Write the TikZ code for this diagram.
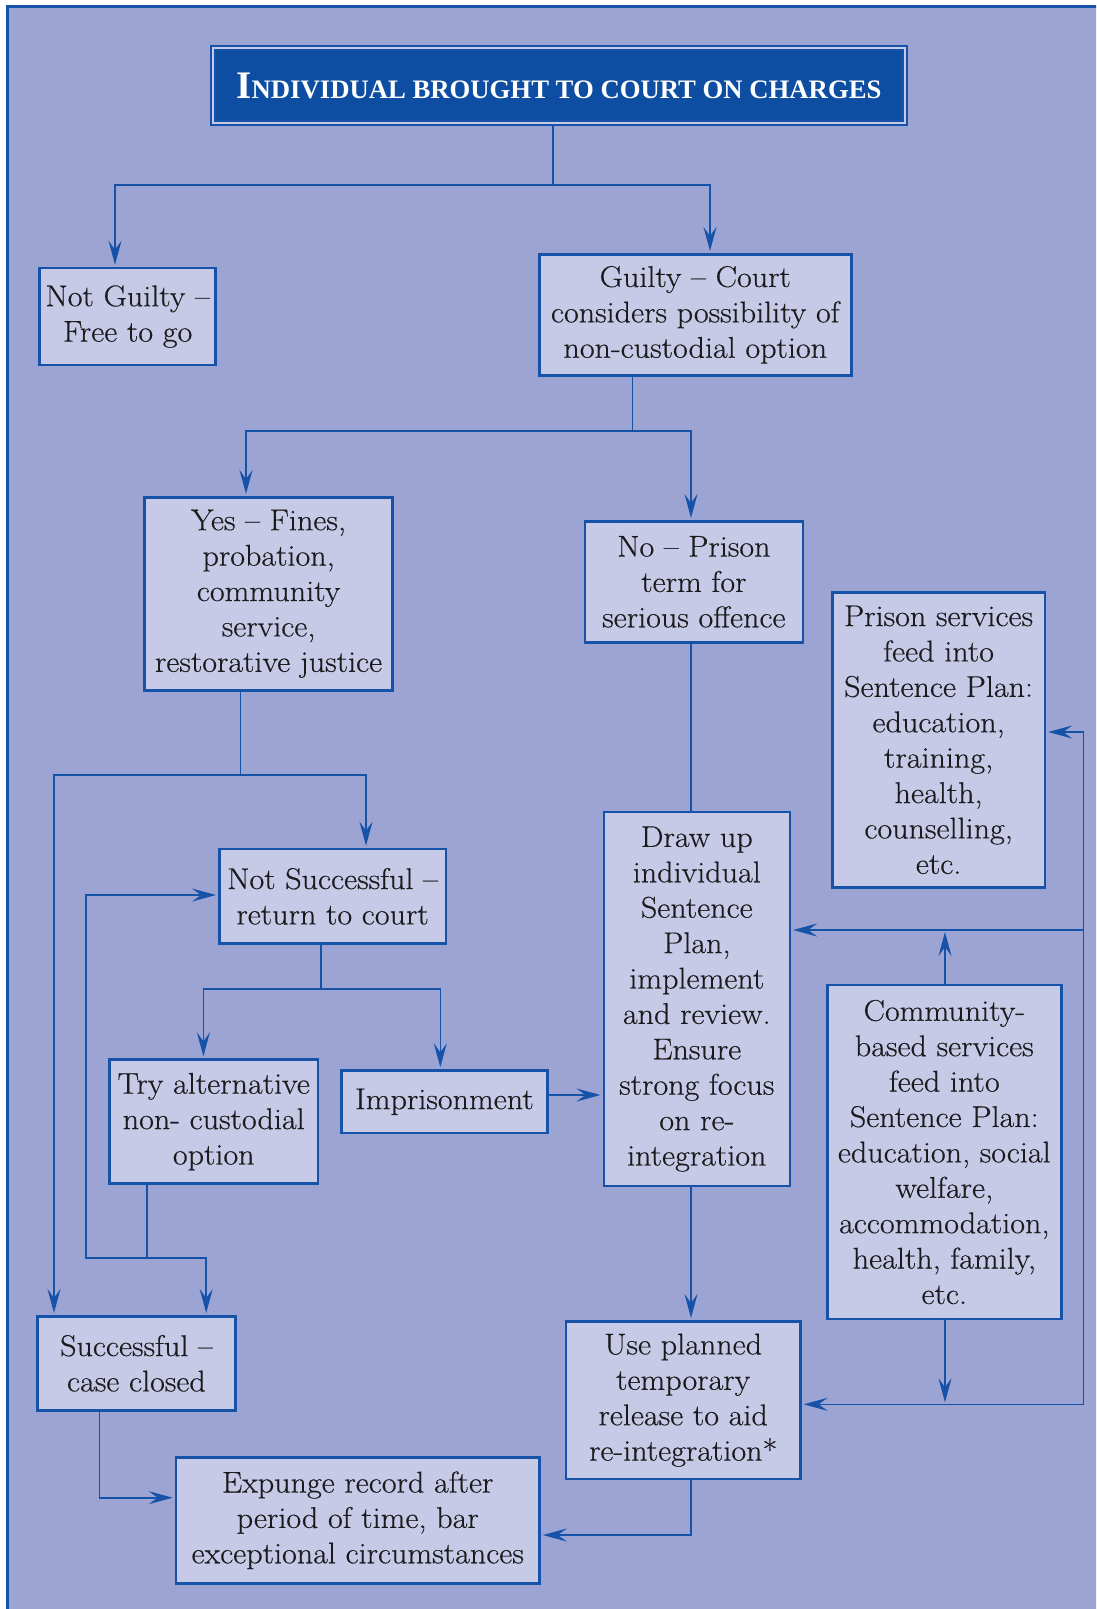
\documentclass[tikz,border=0pt]{standalone}
\usepackage{fontspec}
\setmainfont{Latin Modern Roman}[FakeStretch=1.07, FakeBold=0.4]
\newfontfamily\titlefont{Liberation Serif}
\usetikzlibrary{arrows.meta}
\definecolor{bg}{RGB}{155,164,210}
\definecolor{boxfill}{RGB}{198,202,231}
\definecolor{lineblue}{RGB}{22,82,168}
\definecolor{titleblue}{RGB}{13,78,162}
\definecolor{txt}{RGB}{28,26,28}
\begin{document}
\begin{tikzpicture}[x=1pt,y=-1pt,
  box/.style={draw=lineblue, line width=2.6pt, fill=boxfill, text=txt, align=center,
    inner sep=0pt, anchor=north west, font=\fontsize{30}{35.4}\selectfont},
  conn/.style={draw=lineblue, line width=1.6pt},
  arr/.style={conn, shorten >=2pt, -{Stealth[length=24pt,width=13pt,inset=9pt]}}]
\useasboundingbox (0,0) rectangle (1096,1609);
\clip (0,0) rectangle (1096,1609);
\fill[white] (0,0) rectangle (1096,1609);
\draw[lineblue, line width=2.5pt, fill=bg] (7.5,6.5) rectangle (1130,1640);

% title
\node[draw=lineblue, line width=2pt, double=boxfill, double distance=1.5pt, fill=titleblue,
  minimum width=692pt, minimum height=75pt, anchor=north west, inner sep=0pt] (title) at (212,47)
  {\titlefont\bfseries\color{white}{\fontsize{39}{40}\selectfont I}{\fontsize{26.7}{40}\selectfont NDIVIDUAL BROUGHT TO COURT ON CHARGES}};

% boxes
\node[box, minimum width=176pt, minimum height=97pt] (notguilty) at (38.4,266.7) {Not Guilty –\\Free to go};
\node[box, minimum width=312pt, minimum height=121pt] (guilty) at (538,253) {Guilty – Court\\considers possibility of\\non-custodial option};
\node[box, minimum width=248pt, minimum height=193pt] (yes) at (143.3,496) {Yes – Fines,\\probation,\\community\\service,\\restorative justice};
\node[box, minimum width=218pt, minimum height=121pt] (no) at (583.6,520) {No – Prison\\term for\\serious offence};
\node[box, minimum width=212.6pt, minimum height=295pt] (prison) at (831,591) {Prison services\\feed into\\Sentence Plan:\\education,\\training,\\health,\\counselling,\\etc.};
\node[box, minimum width=226.6pt, minimum height=94.6pt] (notsucc) at (218,847.7) {Not Successful –\\return to court};
\node[box, minimum width=186pt, minimum height=374pt] (drawup) at (602.5,810.7) {Draw up\\individual\\Sentence\\Plan,\\implement\\and review.\\Ensure\\strong focus\\on re-\\integration};
\node[box, minimum width=234pt, minimum height=334pt] (community) at (826,983.7) {Community-\\based services\\feed into\\Sentence Plan:\\education, social\\welfare,\\accommodation,\\health, family,\\etc.};
\node[box, minimum width=208.3pt, minimum height=124pt] (tryalt) at (108.3,1058.3) {Try alternative\\non- custodial\\option};
\node[box, minimum width=205.6pt, minimum height=62.4pt] (imprison) at (340.4,1069.3) {Imprisonment};
\node[box, minimum width=197.7pt, minimum height=94pt] (successful) at (36.3,1315) {Successful –\\case closed};
\node[box, minimum width=234.2pt, minimum height=157.7pt] (useplanned) at (564.8,1320) {Use planned\\temporary\\release to aid\\re-integration*};
\node[box, minimum width=363.5pt, minimum height=126pt] (expunge) at (174.7,1456) {Expunge record after\\period of time, bar\\exceptional circumstances};

% junctions and guides
\coordinate (c1) at (553,185);
\coordinate (c2) at (632.6,431);
\coordinate (c3) at (240.4,775);
\coordinate (c4) at (320.8,988.7);
\coordinate (c5) at (146.8,1257.7);
\coordinate (c6) at (86,1257.7);
\coordinate (c7) at (99.3,1497.7);
\coordinate (c8) at (691,1535);
\coordinate (r1) at (1083.5,732);
\coordinate (r2) at (1083.5,930);
\coordinate (r3) at (1083.5,1404.3);
\coordinate (xa) at (115,0);
\coordinate (xb) at (710,0);
\coordinate (xc) at (246,0);
\coordinate (xd) at (691,0);
\coordinate (xe) at (366,0);
\coordinate (xf) at (54,0);
\coordinate (xg) at (203.4,0);
\coordinate (xh) at (440.3,0);
\coordinate (xi) at (206.2,0);
\coordinate (xj) at (945,0);
\coordinate (yk) at (0,895);
\coordinate (yl) at (0,1095);

% connectors
\draw[conn] (title.south -| c1) -- (c1);
\draw[arr] (c1) -| (notguilty.north -| xa);
\draw[arr] (c1) -| (guilty.north -| xb);
\draw[conn] (guilty.south -| c2) -- (c2);
\draw[arr] (c2) -| (yes.north -| xc);
\draw[arr] (c2) -| (no.north -| xd);
\draw[conn] (yes.south -| c3) -- (c3);
\draw[arr] (c3) -| (notsucc.north -| xe);
\draw[arr] (c3) -| (successful.north -| xf);
\draw[conn] (no.south -| xd) -- (drawup.north -| xd);
\draw[conn] (notsucc.south -| c4) -- (c4);
\draw[arr] (c4) -| (tryalt.north -| xg);
\draw[arr] (c4) -| (imprison.north -| xh);
\draw[arr] (imprison.east |- yl) -- (drawup.west |- yl);
\draw[conn] (tryalt.south -| c5) -- (c5);
\draw[arr] (c5) -| (successful.north -| xi);
\draw[arr] (c5) -- (c6) |- (notsucc.west |- yk);
\draw[arr] (successful.south -| c7) |- (expunge.west |- c7);
\draw[arr] (drawup.south -| xd) -- (useplanned.north -| xd);
\draw[arr] (useplanned.south -| c8) |- (expunge.east |- c8);
\draw[arr] (r3) |- (prison.east |- r1);
\draw[arr] (r2) -- (drawup.east |- r2);
\draw[arr] (r3) -- (useplanned.east |- r3);
\draw[arr] (community.north -| xj) -- (xj |- r2);
\draw[arr] (community.south -| xj) -- (xj |- r3);
\end{tikzpicture}
\end{document}
